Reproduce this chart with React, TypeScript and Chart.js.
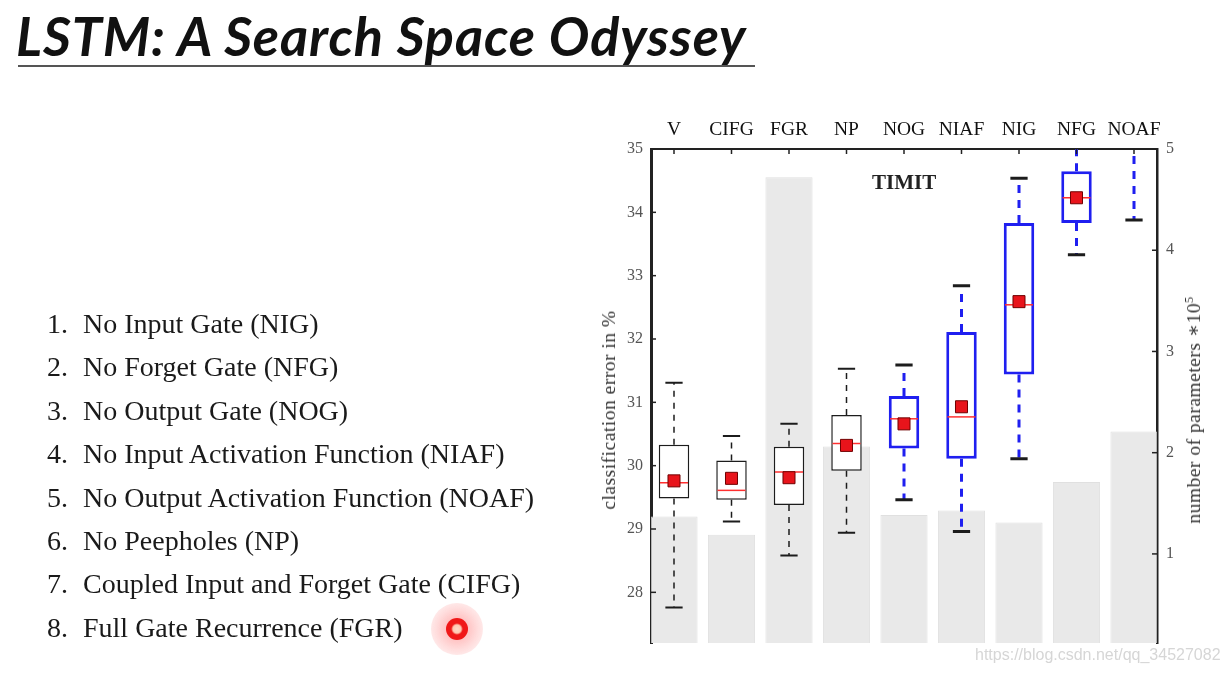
import React, { useEffect, useRef } from 'react';
import { Chart, registerables } from 'chart.js';

Chart.register(...registerables);

// ---------- data ----------
const categories = ['V', 'CIFG', 'FGR', 'NP', 'NOG', 'NIAF', 'NIG', 'NFG', 'NOAF'];
const whiskerLow = [27.76, 29.12, 28.58, 28.94, 29.46, 28.96, 30.11, 33.33, 33.88];
const boxLow = [29.48, 29.46, 29.38, 29.92, 30.27, 30.11, 31.44, 33.83, 35.6];
const medians = [29.73, 29.61, 29.9, 30.35, 30.74, 30.77, 32.54, 34.23, 36.0];
const means = [29.76, 29.8, 29.81, 30.32, 30.66, 30.93, 32.59, 34.23, 36.0];
const boxHigh = [30.33, 30.08, 30.3, 30.8, 31.1, 32.11, 33.83, 34.65, 36.5];
const whiskerHigh = [31.31, 30.47, 30.66, 31.53, 31.59, 32.84, 34.54, 35.2, 37.5];
const paramCounts = [1.37, 1.19, 4.72, 2.06, 1.385, 1.43, 1.31, 1.71, 2.21];
const significant = [false, false, false, false, true, true, true, true, true];
const errorTicks = [28, 29, 30, 31, 32, 33, 34, 35];
const paramTicks = [1, 2, 3, 4, 5];

const listItems = [
  'No Input Gate (NIG)',
  'No Forget Gate (NFG)',
  'No Output Gate (NOG)',
  'No Input Activation Function (NIAF)',
  'No Output Activation Function (NOAF)',
  'No Peepholes (NP)',
  'Coupled Input and Forget Gate (CIFG)',
  'Full Gate Recurrence (FGR)',
];

// ---------- styles ----------
const BLACK = '#1c1c1c';
const BLUE = '#1f1ff0';
const RED = '#e8141b';
const SERIF = "'Liberation Serif', 'DejaVu Serif', serif";
const CAP = 0.15;

const innerTicks = {
  id: 'innerTicks',
  afterDatasetsDraw(chart: any) {
    const { ctx, chartArea, scales } = chart;
    const { left, right, top } = chartArea;
    ctx.save();
    ctx.strokeStyle = '#222';
    ctx.lineWidth = 1.5;
    const seg = (a: number, b: number, c: number, d: number) => {
      ctx.beginPath();
      ctx.moveTo(a, b);
      ctx.lineTo(c, d);
      ctx.stroke();
    };
    scales.x.ticks.forEach((t: any) => {
      const px = scales.x.getPixelForValue(t.value);
      seg(px, top, px, top + 5);
    });
    scales.y.ticks.forEach((t: any) => {
      const py = scales.y.getPixelForValue(t.value);
      seg(left, py, left + 5, py);
    });
    scales.y1.ticks.forEach((t: any) => {
      const py = scales.y1.getPixelForValue(t.value);
      seg(right - 5, py, right, py);
    });
    ctx.restore();
  },
};

export default function App() {
  const ref = useRef<HTMLCanvasElement>(null);

  useEffect(() => {
    const canvas = ref.current;
    if (!canvas) return;
    Chart.defaults.font.family = SERIF;
    const xs = categories.map((_, i) => i + 1);
    const colorOf = (i: number) => (significant[i] ? BLUE : BLACK);

    const whiskerSets = categories.map((_, i) => ({
      type: 'line',
      data: [
        { x: xs[i], y: boxHigh[i] },
        { x: xs[i], y: whiskerHigh[i] },
        { x: xs[i], y: null },
        { x: xs[i], y: boxLow[i] },
        { x: xs[i], y: whiskerLow[i] },
      ],
      borderColor: colorOf(i),
      borderWidth: significant[i] ? 3 : 1.5,
      borderDash: significant[i] ? [8, 7] : [6, 6],
      pointRadius: 0,
      spanGaps: false,
      order: 4,
      xAxisID: 'x',
      yAxisID: 'y',
    }));

    const capSets = categories.map((_, i) => ({
      type: 'line',
      data: [
        { x: xs[i] - CAP, y: whiskerHigh[i] },
        { x: xs[i] + CAP, y: whiskerHigh[i] },
        { x: xs[i], y: null },
        { x: xs[i] - CAP, y: whiskerLow[i] },
        { x: xs[i] + CAP, y: whiskerLow[i] },
      ],
      borderColor: BLACK,
      borderWidth: significant[i] ? 3 : 2,
      pointRadius: 0,
      spanGaps: false,
      order: 3,
      xAxisID: 'x',
      yAxisID: 'y',
    }));

    const chart = new Chart(canvas, {
      type: 'bar',
      data: {
        datasets: [
          {
            type: 'bar',
            data: xs.map((x, i) => ({ x, y: paramCounts[i] })),
            xAxisID: 'x',
            yAxisID: 'y1',
            backgroundColor: '#e9e9e9',
            borderColor: '#e0e0e0',
            borderWidth: 1,
            borderSkipped: false,
            grouped: false,
            categoryPercentage: 1,
            barPercentage: 0.82,
            order: 6,
          },
          ...whiskerSets,
          ...capSets,
          {
            type: 'bar',
            data: xs.map((x, i) => ({ x, y: [boxLow[i], boxHigh[i]] })),
            xAxisID: 'x',
            yAxisID: 'y',
            backgroundColor: '#ffffff',
            borderColor: xs.map((_, i) => colorOf(i)),
            borderWidth: xs.map((_, i) => (significant[i] ? 3 : 1.5)),
            borderSkipped: false,
            grouped: false,
            categoryPercentage: 1,
            barPercentage: 0.53,
            order: 2,
          },
          {
            type: 'line',
            data: xs.map((x, i) => ({ x, y: medians[i] })),
            xAxisID: 'x',
            yAxisID: 'y',
            showLine: false,
            pointStyle: 'line',
            pointRadius: 14,
            pointBorderColor: '#ff3030',
            pointBorderWidth: 1.5,
            order: 1,
          },
          {
            type: 'line',
            data: xs.map((x, i) => ({ x, y: means[i] })),
            xAxisID: 'x',
            yAxisID: 'y',
            showLine: false,
            pointStyle: 'rect',
            pointRadius: 8.5,
            pointBackgroundColor: RED,
            pointBorderColor: '#700000',
            pointBorderWidth: 1,
            order: 0,
          },
        ] as any,
      },
      options: {
        animation: false,
        responsive: false,
        events: [],
        layout: { padding: { left: 591, right: 20, top: 119, bottom: 30 } },
        plugins: { legend: { display: false }, tooltip: { enabled: false } },
        scales: {
          x: {
            type: 'linear',
            position: 'top',
            offset: false,
            min: 0.6,
            max: 9.4,
            afterBuildTicks: (s: any) => {
              s.ticks = xs.map((v) => ({ value: v }));
            },
            afterFit: (s: any) => {
              s.height = 30;
            },
            ticks: {
              callback: (v: any) => categories[Number(v) - 1] ?? '',
              font: { size: 19.5 },
              color: '#111',
              padding: 7,
              maxRotation: 0,
              autoSkip: false,
            },
            grid: { offset: false, drawOnChartArea: false, drawTicks: false },
            border: { color: '#222', width: 2 },
          },
          y: {
            type: 'linear',
            position: 'left',
            min: 27.2,
            max: 35,
            afterBuildTicks: (s: any) => {
              s.ticks = errorTicks.map((v) => ({ value: v }));
            },
            afterFit: (s: any) => {
              s.width = 60;
            },
            ticks: { font: { size: 16 }, color: '#555', padding: 8 },
            grid: { drawOnChartArea: false, drawTicks: false },
            border: { color: '#222', width: 3 },
          },
          y1: {
            type: 'linear',
            position: 'right',
            min: 0.12,
            max: 5,
            afterBuildTicks: (s: any) => {
              s.ticks = paramTicks.map((v) => ({ value: v }));
            },
            afterFit: (s: any) => {
              s.width = 50;
            },
            ticks: { font: { size: 16 }, color: '#555', padding: 9 },
            grid: { drawOnChartArea: false, drawTicks: false },
            border: { color: '#222', width: 2.5 },
          },
        },
      } as any,
      plugins: [innerTicks],
    });
    return () => chart.destroy();
  }, []);

  const rot = (cx: number, cy: number): React.CSSProperties => ({
    position: 'absolute',
    left: cx,
    top: cy,
    transform: 'translate(-50%, -50%) rotate(-90deg)',
    whiteSpace: 'nowrap',
    fontFamily: SERIF,
    fontSize: 19.5,
    letterSpacing: 0.5,
    lineHeight: '20px',
    color: '#333',
  });

  return (
    <div
      style={{
        position: 'fixed',
        left: 0,
        top: 0,
        width: 1227,
        height: 673,
        background: '#fff',
        overflow: 'hidden',
      }}
    >
      <canvas
        ref={ref}
        width={1227}
        height={673}
        style={{ position: 'absolute', left: 0, top: 0, width: 1227, height: 673 }}
      />
      <div
        style={{
          position: 'absolute',
          left: 16,
          top: 9,
          fontFamily: "Lato, 'Open Sans', sans-serif",
          fontStyle: 'italic',
          fontWeight: 700,
          fontSize: 54,
          letterSpacing: 0.9,
          lineHeight: '54px',
          color: '#111',
          whiteSpace: 'nowrap',
        }}
      >
        LSTM: A Search Space Odyssey
      </div>
      <div
        style={{
          position: 'absolute',
          left: 18,
          top: 65,
          width: 737,
          height: 2,
          background: '#555',
        }}
      />
      {listItems.map((t, i) => (
        <div
          key={t}
          style={{
            position: 'absolute',
            left: 47,
            top: 324 + i * 43.4 - 14,
            fontFamily: SERIF,
            fontSize: 28,
            lineHeight: '28px',
            color: '#1a1a1a',
            whiteSpace: 'nowrap',
          }}
        >
          <span style={{ display: 'inline-block', width: 36 }}>{i + 1}.</span>
          {t}
        </div>
      ))}
      <div
        style={{
          position: 'absolute',
          left: 457 - 26,
          top: 629 - 26,
          width: 52,
          height: 52,
          borderRadius: '50%',
          background:
            'radial-gradient(circle, rgba(255,40,40,0.4) 0%, rgba(255,60,60,0.18) 55%, rgba(255,80,80,0) 100%)',
        }}
      />
      <div
        style={{
          position: 'absolute',
          left: 457 - 11,
          top: 629 - 11,
          width: 22,
          height: 22,
          borderRadius: '50%',
          background: 'radial-gradient(circle, #ffd8c8 0%, #ffc8b0 26%, #f01818 38%, #f01818 100%)',
        }}
      />
      <div
        style={{
          position: 'absolute',
          left: 872,
          top: 172,
          fontFamily: SERIF,
          fontWeight: 700,
          fontSize: 21,
          lineHeight: '21px',
          color: '#222',
        }}
      >
        TIMIT
      </div>
      <div style={rot(609, 410)}>classification error in %</div>
      <div style={rot(1194, 410)}>
        number of parameters ∗10<sup style={{ fontSize: 12, verticalAlign: 'super', lineHeight: 0 }}>5</sup>
      </div>
      <div
        style={{
          position: 'absolute',
          left: 975,
          top: 646,
          fontFamily: "'Liberation Sans', Arial, sans-serif",
          fontSize: 16,
          lineHeight: '18px',
          color: '#d6d6d6',
          whiteSpace: 'nowrap',
        }}
      >
        https://blog.csdn.net/qq_34527082
      </div>
    </div>
  );
}
